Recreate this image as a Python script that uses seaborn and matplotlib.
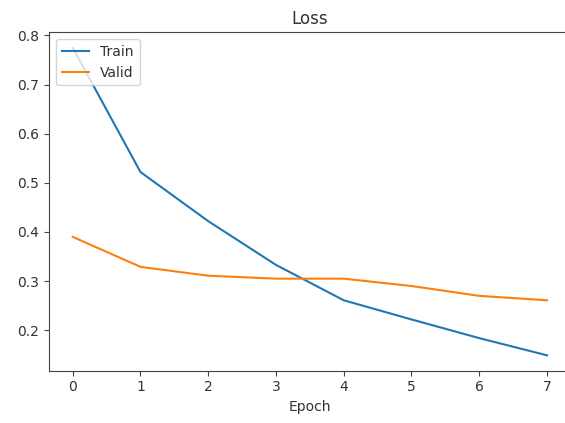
import matplotlib
matplotlib.use("Agg")
import matplotlib.pyplot as plt
import seaborn as sns
import pandas as pd

epochs = [0, 1, 2, 3, 4, 5, 6, 7]
train_loss = [0.775, 0.522, 0.422, 0.333, 0.261, 0.222, 0.184, 0.149]
valid_loss = [0.390, 0.329, 0.311, 0.305, 0.305, 0.290, 0.270, 0.261]

df = pd.DataFrame({"Epoch": epochs, "Train": train_loss, "Valid": valid_loss})

W, H = 565, 423
fig = plt.figure(figsize=(W / 100, H / 100), dpi=100)
ax = fig.add_axes([49 / W, 1 - 370.7 / H, (570.7 - 49) / W, (370.7 - 32.3) / H])

sns.lineplot(data=df, x="Epoch", y="Train", ax=ax, color="#1f77b4", label="Train")
sns.lineplot(data=df, x="Epoch", y="Valid", ax=ax, color="#ff7f0e", label="Valid")

ax.set_title("Loss", fontsize=12, color="#333333")
ax.set_xlabel("Epoch", color="#333333")
ax.set_ylabel("")
ax.set_xticks(epochs)
ax.tick_params(colors="#444444", labelcolor="#333333")
for s in ax.spines.values():
    s.set_color("#444444")
ax.spines["right"].set_visible(False)
leg = ax.legend(loc="upper left")
for t in leg.get_texts():
    t.set_color("#333333")

fig.savefig("out.png", dpi=100)
